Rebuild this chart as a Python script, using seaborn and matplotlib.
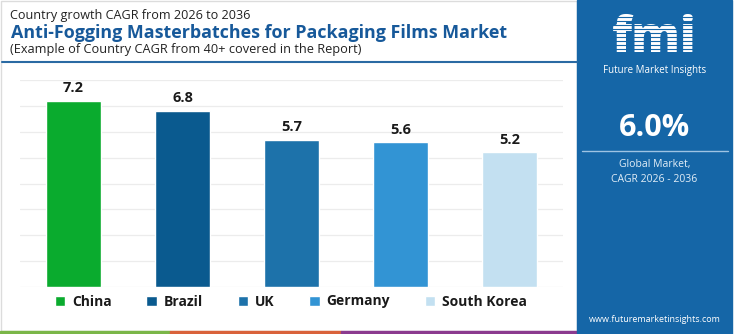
import matplotlib
matplotlib.use("Agg")
import matplotlib.pyplot as plt
from matplotlib.patches import Rectangle
from matplotlib.lines import Line2D
import seaborn as sns
import pandas as pd

countries = ["China", "Brazil", "UK", "Germany", "South Korea"]
cagr = [7.2, 6.8, 5.7, 5.6, 5.2]
colors = ["#0aab2e", "#0a5a8f", "#1d72aa", "#3294d4", "#c3e0f1"]
title_top = "Country growth CAGR from 2026 to 2036"
title_main = "Anti-Fogging Masterbatches for Packaging Films Market"
title_sub = "(Example of Country CAGR from 40+ covered in the Report)"
global_cagr = "6.0%"
global_label = "Global Market,\nCAGR 2026 - 2036"
website = "www.futuremarketinsights.com"

sns.set_theme(style="white")
plt.rcParams["font.family"] = ["Open Sans", "DejaVu Sans"]

W, H = 750, 334
fig = plt.figure(figsize=(7.5, 3.34), dpi=100)
fig.patch.set_facecolor("white")

def fx(px):
    return px / W

def fy(py):
    return 1 - py / H

df = pd.DataFrame({"country": countries, "cagr": cagr})

ax = fig.add_axes([fx(20), fy(287), fx(563) - fx(20), fy(80) - fy(287)])
sns.barplot(data=df, x="country", y="cagr", hue="country", palette=colors,
            width=0.5, ax=ax, legend=True, saturation=1)
ax.set_xlim(-0.49, 4.49)
ax.set_ylim(0, 8)
ax.set_yticks(range(0, 9))
ax.yaxis.grid(True, color="#ececec", linewidth=0.9)
ax.set_axisbelow(True)
ax.set_xticks([])
ax.set_yticklabels([])
ax.tick_params(left=False, bottom=False)
ax.set_xlabel("")
ax.set_ylabel("")
for s in ax.spines.values():
    s.set_visible(False)

for cont in ax.containers:
    ax.bar_label(cont, fmt="%.1f", padding=4, fontsize=10.5, fontweight="bold",
                 color="#1a1a1a")

sns.move_legend(ax, "center left", bbox_to_anchor=(fx(42), fy(301.5)),
                bbox_transform=fig.transFigure, ncol=5, frameon=False, title=None,
                handlelength=0.75, handleheight=0.75, handletextpad=0.5,
                columnspacing=2.5, prop={"weight": "bold", "size": 10})
for t in ax.get_legend().get_texts():
    t.set_color("#1a1a1a")

# Left panel border
fig.patches.append(Rectangle((fx(1), fy(331)), fx(577) - fx(1), fy(1) - fy(331),
                             transform=fig.transFigure, fill=False,
                             edgecolor="#dcdcdc", linewidth=1.0, zorder=0))

# Titles
fig.text(fx(10), fy(16), title_top, fontsize=9.1, color="#222222", va="center", ha="left")
fig.text(fx(11), fy(33), title_main, fontsize=12.9, fontweight="bold",
         color="#17599a", va="center", ha="left")
fig.text(fx(10), fy(50), title_sub, fontsize=9.2, color="#222222", va="center", ha="left")
fig.add_artist(Line2D([fx(2), fx(577)], [fy(62), fy(62)], color="#2a6aa3",
                      linewidth=1.5, transform=fig.transFigure))

# Bottom colored strip
for x0, x1, c in [(0, 170, "#7ab648"), (170, 341, "#d9623b"), (341, 577, "#8b3a8f")]:
    fig.patches.append(Rectangle((fx(x0), 0), fx(x1) - fx(x0), fy(331),
                                 transform=fig.transFigure, color=c, zorder=1))

# Right panel
panel_c = "#1566a7"
fig.patches.append(Rectangle((fx(577), 0), fx(732) - fx(577), 1,
                             transform=fig.transFigure, color=panel_c, zorder=1))
cx = fx(654.5)
fig.text(cx, fy(52), "fmi", fontsize=35, fontweight="heavy", color="white",
         ha="center", va="baseline", zorder=3)
for yy in range(17, 53, 4):
    fig.add_artist(Line2D([fx(600), fx(710)], [fy(yy), fy(yy)], color=panel_c,
                          linewidth=0.8, transform=fig.transFigure, zorder=4))
fig.text(cx, fy(70), "Future Market Insights", fontsize=7, color="white",
         ha="center", va="center", zorder=3)
fig.text(cx, fy(128), global_cagr, fontsize=22, fontweight="bold", color="white",
         ha="center", va="center", zorder=3)
fig.add_artist(Line2D([fx(582), fx(728)], [fy(151), fy(151)], color="#9ec3e3",
                      linewidth=1.0, transform=fig.transFigure, zorder=3))
fig.text(cx, fy(172), global_label, fontsize=7.5, color="#e3eef7",
         ha="center", va="center", linespacing=1.6, zorder=3)
fig.text(cx, fy(320), website, fontsize=6.5, color="white",
         ha="center", va="center", zorder=3)

fig.savefig("out.png", dpi=100, facecolor="white")
